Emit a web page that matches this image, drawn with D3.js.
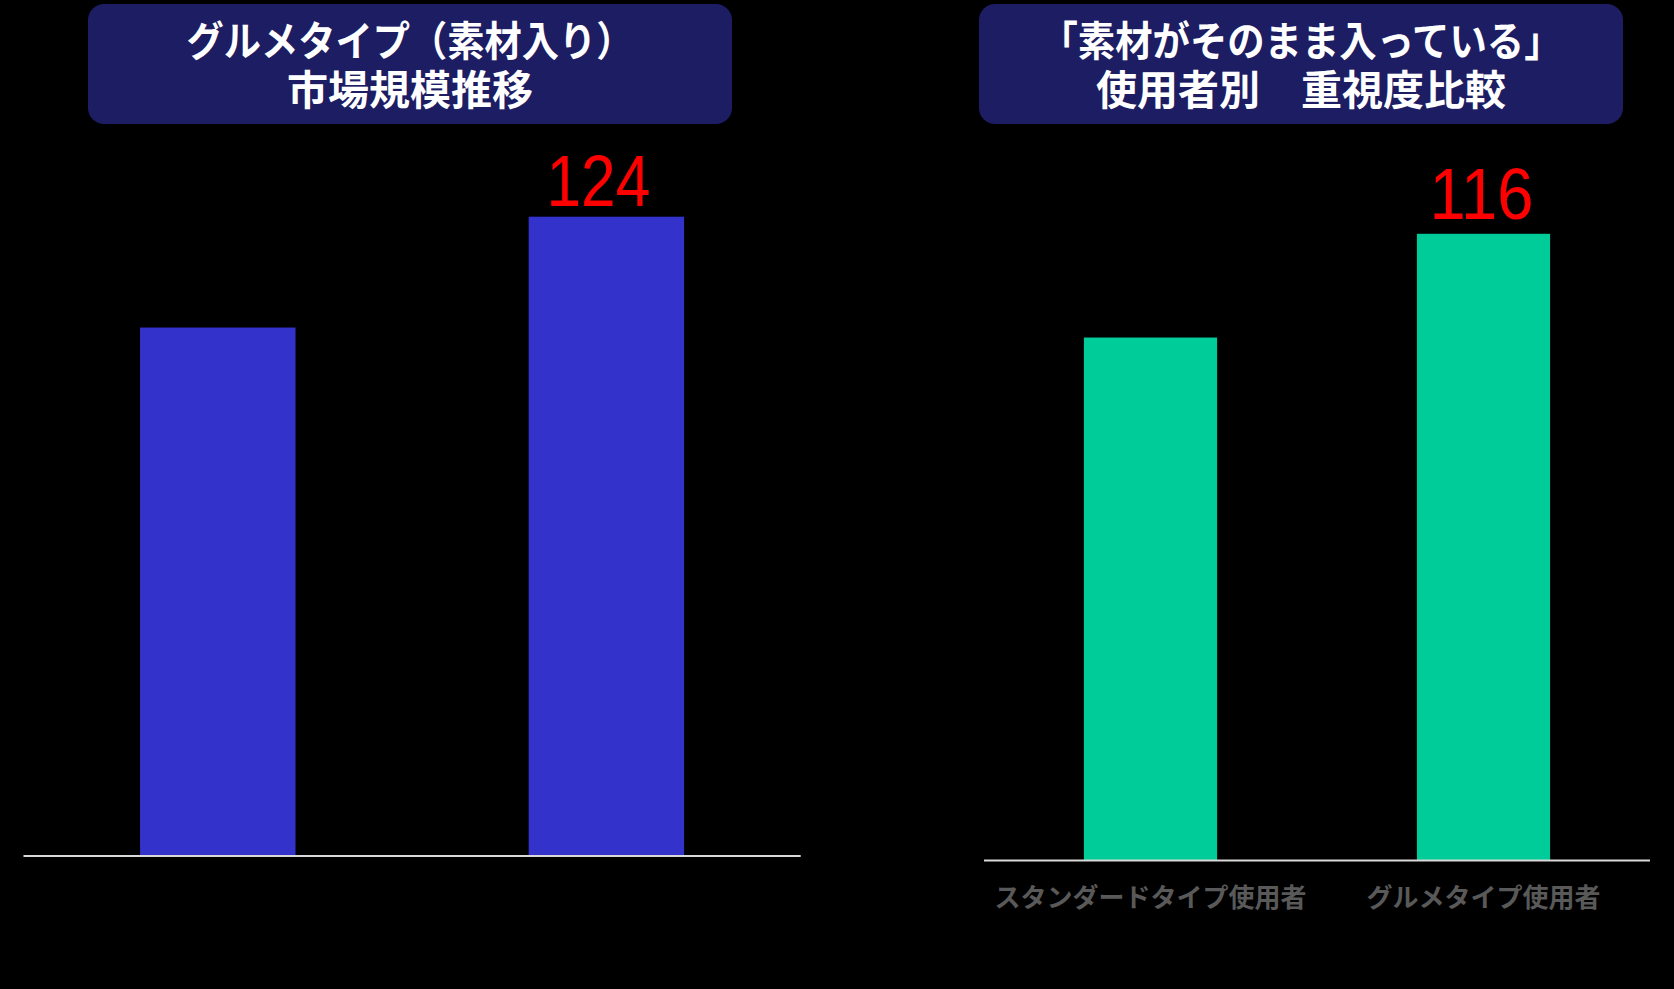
<!DOCTYPE html>
<html><head><meta charset="utf-8">
<script src="https://cdn.jsdelivr.net/npm/d3@7"></script>
<style>html,body{margin:0;padding:0;background:#000;}svg{display:block;}</style>
</head><body>
<script>
// ---- data ----
const leftTitle = ["グルメタイプ（素材入り）", "市場規模推移"];
const leftCategories = ["前", "後"];
const leftValues = [102.5, 124];
const leftLabels = [null, "124"];

const rightTitle = ["「素材がそのまま入っている」", "使用者別　重視度比較"];
const rightCategories = ["スタンダードタイプ使用者", "グルメタイプ使用者"];
const rightValues = [96.8, 116];
const rightLabels = [null, "116"];

const W = 1674, H = 989;
const svg = d3.select("body").append("svg").attr("width", W).attr("height", H).style("background", "#000");
const font = "'Noto Sans CJK JP', 'Noto Sans', sans-serif";
const titleFont = "'Liberation Sans', 'Noto Sans CJK JP', sans-serif";

function panel(cfg) {
  const g = svg.append("g");
  // title box
  g.append("rect").attr("x", cfg.box[0]).attr("y", 4).attr("width", cfg.box[1] - cfg.box[0]).attr("height", 120)
    .attr("rx", 16).attr("fill", "#1d1d63");
  const cx = (cfg.box[0] + cfg.box[1]) / 2;
  const title = g.append("text").attr("text-anchor", "middle")
    .attr("fill", "#fff").attr("font-family", titleFont).attr("font-weight", "bold").attr("font-size", 41);
  cfg.title.forEach((t, i) => {
    const ts = title.append("tspan").attr("x", cx).attr("y", i === 0 ? 56 : 105).text(t);
    if (i === 0) ts.attr("textLength", cfg.titleLen).attr("lengthAdjust", "spacingAndGlyphs");
  });
  const x = d3.scaleBand().domain(cfg.categories).range(cfg.xr).paddingInner(0.6).paddingOuter(0.3);
  const y = d3.scaleLinear().domain(cfg.ydom).range([cfg.base, cfg.top]);
  g.selectAll("rect.bar").data(cfg.values).join("rect").attr("class", "bar")
    .attr("x", (d, i) => x(cfg.categories[i])).attr("width", x.bandwidth())
    .attr("y", d => y(d)).attr("height", d => y(0) - y(d)).attr("fill", cfg.color);
  // axis line
  const ax = g.append("g").attr("transform", `translate(0,${cfg.base})`)
    .call(d3.axisBottom(x).tickSize(0).tickPadding(33).tickSizeOuter(0));
  ax.select(".domain").attr("stroke", "#d9d9d9").attr("stroke-width", 2).attr("d", `M${cfg.xr[0]},0H${cfg.xr[1]}`);
  ax.selectAll("text").attr("font-family", font).attr("font-weight", "bold").attr("font-size", 26)
    .attr("fill", cfg.tickColor).attr("dy", "0.5em");
  // value labels
  cfg.labels.forEach((l, i) => {
    if (!l) return;
    g.append("text").attr("x", x(cfg.categories[i]) + x.bandwidth() / 2 + cfg.labelDx).attr("y", y(cfg.values[i]) - cfg.labelGap)
      .attr("text-anchor", "middle").attr("fill", "#ff0000").attr("font-family", "'Liberation Sans', Arial, sans-serif")
      .attr("font-size", 73).attr("textLength", 104).attr("lengthAdjust", "spacingAndGlyphs").text(l);
  });
}

panel({ title: leftTitle, titleLen: 447, box: [88, 732], categories: leftCategories, values: leftValues, labels: leftLabels,
  xr: [23.5, 800.7], base: 856, top: 856 - 140 * (639.3 / 124), ydom: [0, 140], color: "#3333cc", tickColor: "#000", labelGap: 11, labelDx: -8 });
panel({ title: rightTitle, titleLen: 521, box: [979, 1623], categories: rightCategories, values: rightValues, labels: rightLabels,
  xr: [984, 1650], base: 860.5, top: 860.5 - 130 * (626.7 / 116), ydom: [0, 130], color: "#00cc99", tickColor: "#595959", labelGap: 15, labelDx: -2 });
</script>
</body></html>
